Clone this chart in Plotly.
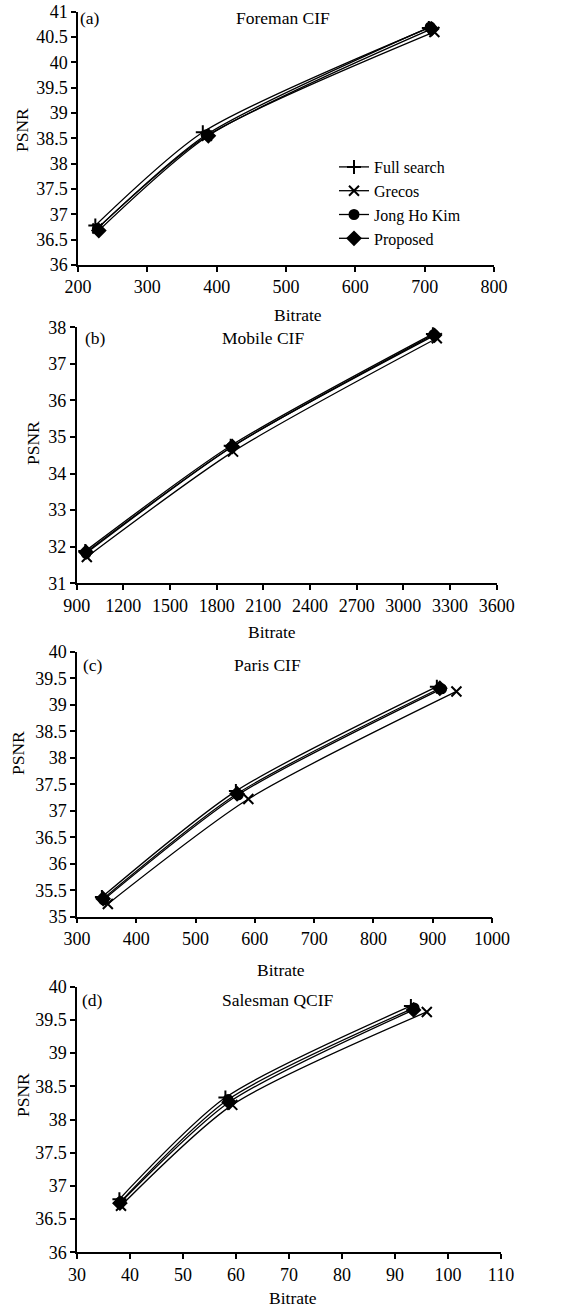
import plotly.graph_objects as go

W, H = 569, 1307

series_names = ["Full search", "Grecos", "Jong Ho Kim", "Proposed"]
symbols = ["cross-thin", "x-thin", "circle", "diamond"]

# (a) Foreman CIF
foreman_x = {
    "Full search": [225, 380, 706],
    "Grecos": [228, 386, 714],
    "Jong Ho Kim": [228, 385, 708],
    "Proposed": [230, 388, 710],
}
foreman_y = {
    "Full search": [36.78, 38.62, 40.68],
    "Grecos": [36.72, 38.55, 40.60],
    "Jong Ho Kim": [36.72, 38.57, 40.70],
    "Proposed": [36.68, 38.55, 40.66],
}
# (b) Mobile CIF
mobile_x = {
    "Full search": [955, 1890, 3190],
    "Grecos": [965, 1905, 3215],
    "Jong Ho Kim": [960, 1895, 3195],
    "Proposed": [960, 1900, 3200],
}
mobile_y = {
    "Full search": [31.88, 34.76, 37.82],
    "Grecos": [31.72, 34.60, 37.70],
    "Jong Ho Kim": [31.82, 34.72, 37.80],
    "Proposed": [31.85, 34.74, 37.78],
}
# (c) Paris CIF
paris_x = {
    "Full search": [342, 568, 907],
    "Grecos": [352, 589, 940],
    "Jong Ho Kim": [345, 572, 915],
    "Proposed": [344, 570, 912],
}
paris_y = {
    "Full search": [35.37, 37.37, 39.34],
    "Grecos": [35.24, 37.22, 39.25],
    "Jong Ho Kim": [35.32, 37.30, 39.30],
    "Proposed": [35.34, 37.32, 39.31],
}
# (d) Salesman QCIF
salesman_x = {
    "Full search": [38.0, 58.0, 93.0],
    "Grecos": [38.3, 59.3, 96.0],
    "Jong Ho Kim": [38.2, 58.5, 93.6],
    "Proposed": [38.1, 58.7, 93.5],
}
salesman_y = {
    "Full search": [36.80, 38.33, 39.71],
    "Grecos": [36.70, 38.22, 39.62],
    "Jong Ho Kim": [36.76, 38.30, 39.68],
    "Proposed": [36.74, 38.26, 39.65],
}

panel_labels = ["(a)", "(b)", "(c)", "(d)"]
panel_titles = ["Foreman CIF", "Mobile CIF", "Paris CIF", "Salesman QCIF"]
x_ranges = [[200, 800], [900, 3600], [300, 1000], [30, 110]]
x_dticks = [100, 300, 100, 10]
y_ranges = [[36, 41], [31, 38], [35, 40], [36, 40]]
y_dticks = [0.5, 1, 0.5, 0.5]

datasets = [(foreman_x, foreman_y), (mobile_x, mobile_y),
            (paris_x, paris_y), (salesman_x, salesman_y)]

# plot-area pixel boxes in page coordinates (left, right, top, bottom)
boxes = [(78, 494, 11.7, 265), (76.7, 496.7, 327.3, 583.3),
         (77, 492, 651.7, 916.7), (77, 501, 986.7, 1252.3)]


def px(x):
    return x / W


def py(y):
    return 1 - y / H


FONT = "Liberation Serif"
TXT = 17.5
TICK = 18
fig = go.Figure()

for i, ((dx, dy), box) in enumerate(zip(datasets, boxes)):
    xa = "x" if i == 0 else f"x{i+1}"
    ya = "y" if i == 0 else f"y{i+1}"
    for name, sym in zip(series_names, symbols):
        fig.add_trace(go.Scatter(
            x=dx[name], y=dy[name], name=name, xaxis=xa, yaxis=ya,
            mode="lines+markers",
            line=dict(color="black", width=1.3, shape="spline", smoothing=0.7),
            marker=dict(symbol=sym, size=9 if sym == "circle" else 10,
                        color="black", line=dict(color="black", width=2)),
            showlegend=(i == 0),
        ))
    l, r, t, b = box
    axis_common = dict(showline=True, linecolor="black", linewidth=1.5,
                       ticks="outside", ticklen=5, tickwidth=1.5, tickcolor="black",
                       showgrid=False, zeroline=False, automargin=False,
                       ticklabeloverflow="allow",
                       tickfont=dict(family=FONT, size=TICK, color="black"))
    fig.update_layout(**{
        ("xaxis" if i == 0 else f"xaxis{i+1}"): dict(
            domain=[px(l), px(r)], range=x_ranges[i], dtick=x_dticks[i],
            tick0=x_ranges[i][0], anchor=ya, **axis_common),
        ("yaxis" if i == 0 else f"yaxis{i+1}"): dict(
            domain=[py(b), py(t)], range=y_ranges[i], dtick=y_dticks[i],
            tick0=y_ranges[i][0], anchor=xa, **axis_common),
    })

# annotations: panel labels, titles, axis titles (page pixel positions)
label_pos = [(90, 18), (95, 338), (93, 665), (93, 1000)]
title_pos = [(283, 18), (263, 338), (267, 665), (278, 1000)]
bitrate_pos = [(298, 315), (272, 632), (281, 970), (293, 1298)]
psnr_pos = [(22, 130), (33, 443), (18, 753), (23, 1095)]

annotations = []
for i in range(4):
    for (x, y), text, ang in [(label_pos[i], panel_labels[i], 0),
                              (title_pos[i], panel_titles[i], 0),
                              (bitrate_pos[i], "Bitrate", 0),
                              (psnr_pos[i], "PSNR", -90)]:
        annotations.append(dict(x=px(x), y=py(y), xref="paper", yref="paper",
                                text=text, showarrow=False, textangle=ang,
                                xanchor="center", yanchor="middle",
                                font=dict(family=FONT, size=TXT, color="black")))

fig.update_layout(
    width=W, height=H,
    margin=dict(l=0, r=0, t=0, b=0, pad=0, autoexpand=False),
    paper_bgcolor="white", plot_bgcolor="white",
    annotations=annotations,
    legend=dict(x=px(334), y=py(150), xanchor="left", yanchor="top",
                bgcolor="rgba(0,0,0,0)", itemwidth=30,
                font=dict(family=FONT, size=16, color="black")),
)

# remove the default page margin so the figure sits at the top-left corner
fig.write_html("out.html", config={"displayModeBar": False},
               post_script="document.body.style.margin='0px';")
